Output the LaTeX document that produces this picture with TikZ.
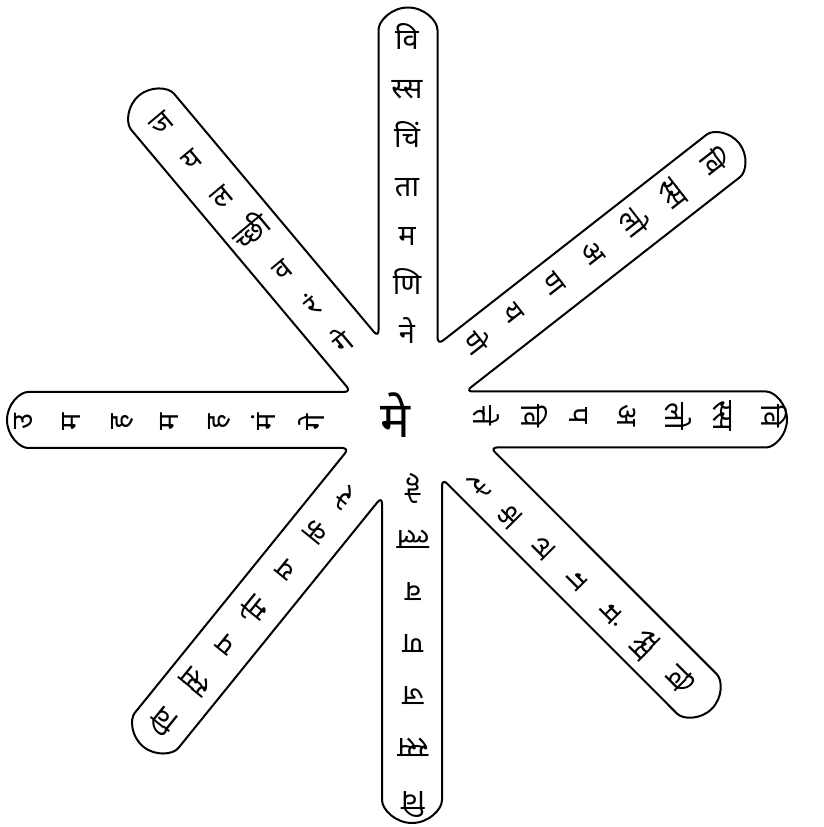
\documentclass[tikz,border=0pt]{standalone}
\usepackage{fontspec}
\newfontfamily\deva[Script=Devanagari]{Noto Sans}
\usetikzlibrary{calc}

\begin{document}
\begin{tikzpicture}[x=1pt, y=1pt,
  outline/.style={draw, line width=2pt, rounded corners=7pt},
  glyph/.style={font=\deva\fontsize{29}{29}\selectfont, inner sep=0pt, text height=17pt, text depth=3pt},
  hub/.style={font=\deva\bfseries\fontsize{50}{50}\selectfont, inner sep=0pt}]
\useasboundingbox (0,0) rectangle (823,827);
\foreach \n/\x/\y/\a/\w in {a/759/407.5/0/28, b/718/667/38/27, c/408/790/90/29.5, d/157/710/130/28,
    e/35/407/180/28, f/161/102/-129/28, g/412/34/-90/30, h/692/138/-45/28}{
  \coordinate (t\n) at (\x,\y);
  \coordinate (r\n) at ($(t\n)+(\a-90:\w)$);
  \coordinate (l\n) at ($(t\n)+(\a+90:\w)$);
  \coordinate (rr\n) at ($(r\n)+(\a+180:400)$);
  \coordinate (ll\n) at ($(l\n)+(\a+180:400)$);
}
\coordinate (vab) at (intersection of la--lla and rb--rrb);
\coordinate (vbc) at (intersection of lb--llb and rc--rrc);
\coordinate (vcd) at (intersection of lc--llc and rd--rrd);
\coordinate (vde) at (intersection of ld--lld and re--rre);
\coordinate (vef) at (intersection of le--lle and rf--rrf);
\coordinate (vfg) at (intersection of lf--llf and rg--rrg);
\coordinate (vgh) at (intersection of lg--llg and rh--rrh);
\coordinate (vha) at (intersection of lh--llh and ra--rra);
\draw[outline] (vha) -- (ra) arc[start angle=-90, end angle=90, radius=28]
  -- (vab) -- (rb) arc[start angle=-52, end angle=128, radius=27]
  -- (vbc) -- (rc) arc[start angle=0, end angle=180, radius=29.5]
  -- (vcd) -- (rd) arc[start angle=40, end angle=220, radius=28]
  -- (vde) -- (re) arc[start angle=90, end angle=270, radius=28]
  -- (vef) -- (rf) arc[start angle=-219, end angle=-39, radius=28]
  -- (vfg) -- (rg) arc[start angle=-180, end angle=0, radius=30]
  -- (vgh) -- (rh) arc[start angle=-135, end angle=45, radius=28] -- cycle;
\foreach \n/\a/\ox/\oy/\ix/\iy/\gl in {
    a/0/768/411/480/411/{वि,स्स,लो,अ,प,वि,त्ते},
    b/38/710/662/472/482/{वि,स्स,लो,अ,ण,य,णे},
    c/90/407/784/407/490/{वि,स्स,चिं,ता,म,णि,ने},
    d/130/163/702/345/482/{ज,य,ल,च्छी,व,रं,गे},
    e/180/25/405/317/405/{उ,म,ह,म,ह,मं,गे},
    f/-129/167/110/348/334/{वि,स्स,प,मो,य,क,रे},
    g/-90/413/29/413/342/{वि,स्स,ज,ण,व,ल्ल,हे},
    h/-45/676/152/474/345/{वि,स्स,मं,ग,ल,क,रे}}{
  \foreach \g [count=\k from 0] in \gl
    \node[glyph, rotate=\a-90] (\n\k) at ($(\ox,\oy)!\k/6!(\ix,\iy)$) {\g};
}
\node[hub] (me) at (395,412) {मे};
\end{tikzpicture}
\end{document}
